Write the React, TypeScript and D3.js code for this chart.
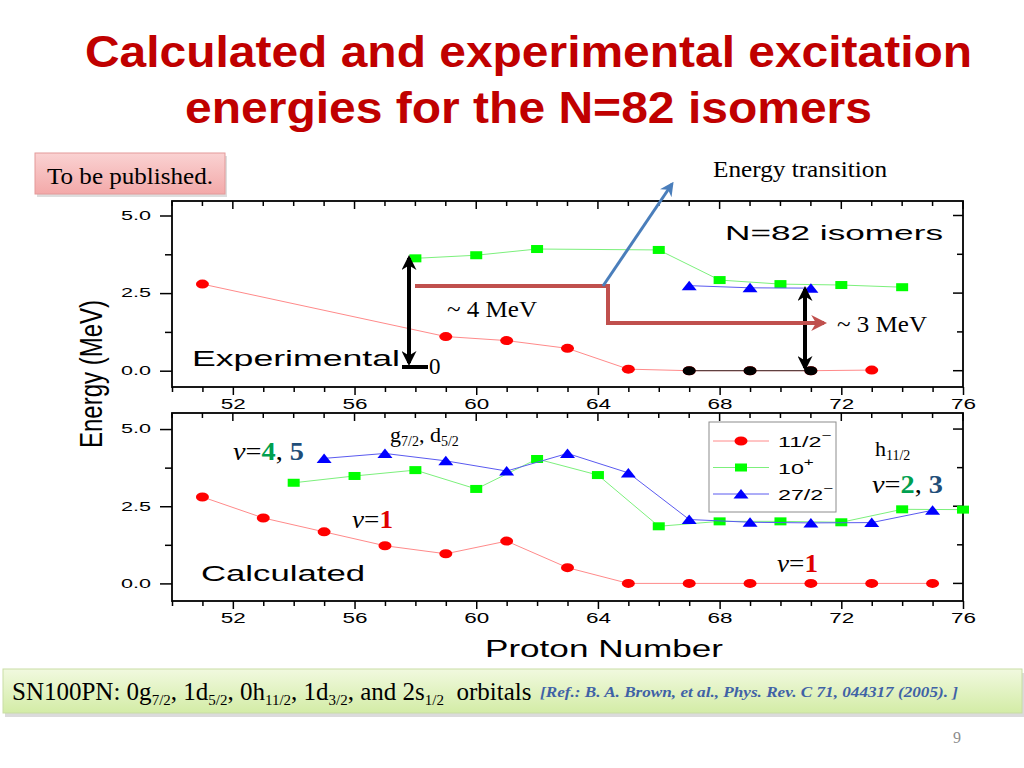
import React, { useEffect, useRef } from 'react';
import * as d3 from 'd3';

// Experimental energies (top panel)
const expZ11 = [51, 59, 61, 63, 65, 67, 69, 71, 73];
const expE11 = [2.79, 1.1, 0.97, 0.72, 0.05, 0, 0, 0, 0.02];
const expZBlack = [67, 69, 71];
const expEBlack = [0, 0, 0];
const expZ10 = [58, 60, 62, 66, 68, 70, 72, 74];
const expE10 = [3.62, 3.72, 3.92, 3.89, 2.92, 2.79, 2.76, 2.69];
const expZ27 = [67, 69, 71];
const expE27 = [2.74, 2.67, 2.66];

// Calculated energies (bottom panel)
const calcZ11 = [51, 53, 55, 57, 59, 61, 63, 65, 67, 69, 71, 73, 75];
const calcE11 = [2.8, 2.12, 1.67, 1.22, 0.96, 1.37, 0.51, 0, 0, 0, 0, 0, 0];
const calcZ10 = [54, 56, 58, 60, 62, 64, 66, 68, 70, 72, 74, 76];
const calcE10 = [3.26, 3.48, 3.67, 3.06, 4.03, 3.51, 1.85, 2.01, 2.01, 1.98, 2.4, 2.39];
const calcZ27 = [55, 57, 59, 61, 63, 65, 67, 69, 71, 73, 75];
const calcE27 = [4.05, 4.21, 3.97, 3.64, 4.21, 3.58, 2.07, 1.98, 1.96, 1.97, 2.37];

const xTickLabels = [52, 56, 60, 64, 68, 72, 76];
const yTickLabels = [0, 2.5, 5];
const legendLabels = [
  { main: '11/2', sup: '\u2212' },
  { main: '10', sup: '+' },
  { main: '27/2', sup: '\u2212' },
];

const SANS = "'Liberation Sans', Arial, sans-serif";
const SERIF = "'Liberation Serif', 'Times New Roman', serif";

export default function App() {
  const svgRef = useRef<SVGSVGElement>(null);

  useEffect(() => {
    if (!svgRef.current) return;
    draw();
  }, []);

  const draw = () => {
    const svg = d3.select(svgRef.current);
    svg.selectAll('*').remove();

    const left = 172;
    const right = 963;

    const x = d3.scaleLinear().domain([50, 76]).range([left, right]);
    const yTop = d3.scaleLinear().domain([-0.525, 5.467]).range([387, 201]);
    const yBot = d3.scaleLinear().domain([-0.57, 5.52]).range([601, 413]);

    const defs = svg.append('defs');
    const addArrow = (id: string, color: string, size: number) => {
      defs
        .append('marker')
        .attr('id', id)
        .attr('viewBox', '0 0 10 10')
        .attr('refX', 8)
        .attr('refY', 5)
        .attr('markerUnits', 'userSpaceOnUse')
        .attr('markerWidth', size)
        .attr('markerHeight', size)
        .attr('orient', 'auto-start-reverse')
        .append('path')
        .attr('d', 'M0,0 L10,5 L0,10 L3,5 z')
        .attr('fill', color);
    };
    addArrow('arrBlack', '#000', 15);
    addArrow('arrRed', '#C0504D', 16);
    addArrow('arrBlue', '#4A7EBB', 14);

    const boxGrad = defs.append('linearGradient').attr('id', 'boxGrad').attr('x1', 0).attr('y1', 0).attr('x2', 0).attr('y2', 1);
    boxGrad.append('stop').attr('offset', '0%').attr('stop-color', '#F1F9DF');
    boxGrad.append('stop').attr('offset', '100%').attr('stop-color', '#D3ECA6');
    const pinkGrad = defs.append('linearGradient').attr('id', 'pinkGrad').attr('x1', 0).attr('y1', 0).attr('x2', 0).attr('y2', 1);
    pinkGrad.append('stop').attr('offset', '0%').attr('stop-color', '#FAD2D2');
    pinkGrad.append('stop').attr('offset', '100%').attr('stop-color', '#F3A9A9');

    svg.append('rect').attr('width', 1024).attr('height', 768).attr('fill', '#fff');

    // Title
    const title = svg.append('g').attr('font-family', SANS).attr('font-weight', 'bold').attr('font-size', 45).attr('fill', '#C00000');
    title.append('text').attr('x', 85).attr('y', 67).attr('textLength', 887).attr('lengthAdjust', 'spacingAndGlyphs').text('Calculated and experimental excitation');
    title.append('text').attr('x', 185).attr('y', 123).attr('textLength', 687).attr('lengthAdjust', 'spacingAndGlyphs').text('energies for the N=82 isomers');

    // "To be published." box
    svg.append('rect').attr('x', 37).attr('y', 156).attr('width', 190).attr('height', 41).attr('fill', '#bbb').attr('opacity', 0.5);
    svg.append('rect').attr('x', 35).attr('y', 153).attr('width', 190).attr('height', 41).attr('fill', 'url(#pinkGrad)').attr('stroke', '#E39A9A').attr('stroke-width', 1);
    svg.append('text').attr('x', 47).attr('y', 184).attr('font-family', SERIF).attr('font-size', 23).attr('textLength', 166).attr('lengthAdjust', 'spacingAndGlyphs').text('To be published.');

    const drawPanel = (y: d3.ScaleLinear<number, number>, top: number, bottom: number) => {
      const g = svg.append('g');
      const minorX = d3.range(50, 77);
      const minorY = d3.range(0, 5.01, 1.25);

      // bottom axis (outward)
      const xa = g.append('g').attr('transform', `translate(0,${bottom})`).call(
        d3
          .axisBottom(x)
          .tickValues(minorX)
          .tickSize(7)
          .tickPadding(5)
          .tickFormat((d) => (xTickLabels.includes(+d) ? String(d) : ''))
      );
      xa.selectAll('line').attr('y2', (d: any) => (xTickLabels.includes(+d) ? 8 : 5)).attr('stroke-width', 1.5);
      xa.select('.domain').remove();
      xa.selectAll('text')
        .attr('font-family', SANS)
        .attr('font-size', 14)
        .attr('fill', '#000')
        .filter((d: any) => xTickLabels.includes(+d))
        .attr('textLength', 25)
        .attr('lengthAdjust', 'spacingAndGlyphs');

      // top edge ticks (inward)
      g.selectAll('.tt')
        .data(minorX)
        .enter()
        .append('line')
        .attr('x1', (d) => x(d))
        .attr('x2', (d) => x(d))
        .attr('y1', top)
        .attr('y2', (d) => top + (xTickLabels.includes(d) ? 8 : 5))
        .attr('stroke', '#000')
        .attr('stroke-width', 1.5);

      // left axis (outward)
      const ya = g.append('g').attr('transform', `translate(${left},0)`).call(
        d3
          .axisLeft(y)
          .tickValues(minorY)
          .tickSize(12)
          .tickPadding(9)
          .tickFormat((d) => (yTickLabels.includes(+d) ? (+d).toFixed(1) : ''))
      );
      ya.selectAll('line').attr('x2', (d: any) => (yTickLabels.includes(+d) ? -12 : -7)).attr('stroke-width', 1.5);
      ya.select('.domain').remove();
      ya.selectAll('text')
        .attr('font-family', SANS)
        .attr('font-size', 12)
        .attr('fill', '#000')
        .filter((d: any) => yTickLabels.includes(+d))
        .attr('textLength', 30)
        .attr('lengthAdjust', 'spacingAndGlyphs');

      // right edge ticks (inward)
      g.selectAll('.rt')
        .data(minorY)
        .enter()
        .append('line')
        .attr('x1', right)
        .attr('x2', (d) => right - (yTickLabels.includes(d) ? 10 : 6))
        .attr('y1', (d) => y(d))
        .attr('y2', (d) => y(d))
        .attr('stroke', '#000')
        .attr('stroke-width', 1.5);

      g.append('rect')
        .attr('x', left)
        .attr('y', top)
        .attr('width', right - left)
        .attr('height', bottom - top)
        .attr('fill', 'none')
        .attr('stroke', '#000')
        .attr('stroke-width', 1.8);
      return g;
    };

    const drawMarker = (g: any, shape: string, px: number, py: number, fill: string) => {
      if (shape === 'circle') {
        g.append('ellipse').attr('cx', px).attr('cy', py).attr('rx', 6.5).attr('ry', 4.5).attr('fill', fill);
      } else if (shape === 'square') {
        g.append('rect').attr('x', px - 6).attr('y', py - 4).attr('width', 12).attr('height', 8).attr('fill', fill);
      } else {
        g.append('path')
          .attr('d', `M${px - 7.5},${py + 4.5} L${px},${py - 5} L${px + 7.5},${py + 4.5} Z`)
          .attr('fill', fill);
      }
    };

    const series = (
      g: any,
      y: d3.ScaleLinear<number, number>,
      zs: number[],
      es: number[],
      shape: string,
      fill: string,
      lineColor: string
    ) => {
      const pts = zs.map((z, i) => [x(z), y(es[i])] as [number, number]);
      g.append('path').attr('d', d3.line()(pts)).attr('fill', 'none').attr('stroke', lineColor).attr('stroke-width', 1);
      pts.forEach(([px, py]) => drawMarker(g, shape, px, py, fill));
    };

    // Top panel: experimental
    const gt = drawPanel(yTop, 201, 387);
    series(gt, yTop, expZ11, expE11, 'circle', '#FF0000', '#FF8A8A');
    series(gt, yTop, expZ10, expE10, 'square', '#00FF00', '#7CF07C');
    series(gt, yTop, expZ27, expE27, 'triangle', '#0000FF', '#5A5AF0');
    series(gt, yTop, expZBlack, expEBlack, 'circle', '#000000', '#3A2A2A');

    // Bottom panel: calculated
    const gb = drawPanel(yBot, 413, 601);
    series(gb, yBot, calcZ11, calcE11, 'circle', '#FF0000', '#FF8A8A');
    series(gb, yBot, calcZ10, calcE10, 'square', '#00FF00', '#7CF07C');
    series(gb, yBot, calcZ27, calcE27, 'triangle', '#0000FF', '#5A5AF0');

    // Panel labels
    const wide = (xx: number, yy: number, txt: string, size: number, len: number) =>
      svg
        .append('text')
        .attr('x', xx)
        .attr('y', yy)
        .attr('font-family', SANS)
        .attr('font-size', size)
        .attr('textLength', len)
        .attr('lengthAdjust', 'spacingAndGlyphs')
        .text(txt);
    wide(725, 240, 'N=82 isomers', 21, 218);
    wide(192, 366, 'Experimental', 22, 208);
    wide(201, 581, 'Calculated', 22, 164);
    wide(485, 657, 'Proton Number', 23, 238);

    svg
      .append('text')
      .attr('transform', 'translate(102,374) rotate(-90)')
      .attr('text-anchor', 'middle')
      .attr('font-family', SANS)
      .attr('font-size', 32)
      .attr('textLength', 148)
      .attr('lengthAdjust', 'spacingAndGlyphs')
      .text('Energy (MeV)');

    // Legend
    const lg = svg.append('g');
    lg.append('rect').attr('x', 709).attr('y', 422).attr('width', 127).attr('height', 90).attr('fill', '#fff').attr('stroke', '#8C8C8C').attr('stroke-width', 1);
    const legendItems = [
      { shape: 'circle', fill: '#FF0000', line: '#FF8A8A' },
      { shape: 'square', fill: '#00FF00', line: '#7CF07C' },
      { shape: 'triangle', fill: '#0000FF', line: '#5A5AF0' },
    ];
    legendItems.forEach((it, i) => {
      const ly = 441 + i * 26.5;
      lg.append('line').attr('x1', 713).attr('x2', 769).attr('y1', ly).attr('y2', ly).attr('stroke', it.line).attr('stroke-width', 1);
      drawMarker(lg, it.shape, 741, ly, it.fill);
      const t = lg
        .append('g')
        .attr('transform', `translate(778,${ly + 6}) scale(1.55,1)`)
        .append('text')
        .attr('font-family', SANS)
        .attr('font-size', 15);
      t.append('tspan').text(legendLabels[i].main);
      t.append('tspan').attr('dy', -8).attr('font-size', 11).text(legendLabels[i].sup);
    });

    // Annotations (serif)
    const serif = (xx: number, yy: number, size: number) =>
      svg.append('text').attr('x', xx).attr('y', yy).attr('font-family', SERIF).attr('font-size', size).attr('fill', '#000');

    serif(713, 177, 23).attr('textLength', 174).attr('lengthAdjust', 'spacingAndGlyphs').text('Energy transition');
    serif(447, 317, 23).attr('textLength', 90).attr('lengthAdjust', 'spacingAndGlyphs').text('~ 4 MeV');
    serif(837, 332, 23).attr('textLength', 90).attr('lengthAdjust', 'spacingAndGlyphs').text('~ 3 MeV');
    serif(429, 374, 23).text('0');

    // black double arrows
    svg.append('line').attr('x1', 409).attr('x2', 409).attr('y1', 258).attr('y2', 363)
      .attr('stroke', '#000').attr('stroke-width', 4)
      .attr('marker-start', 'url(#arrBlack)').attr('marker-end', 'url(#arrBlack)');
    svg.append('line').attr('x1', 402).attr('x2', 428).attr('y1', 367).attr('y2', 367).attr('stroke', '#000').attr('stroke-width', 4);
    svg.append('line').attr('x1', 805).attr('x2', 805).attr('y1', 289).attr('y2', 368)
      .attr('stroke', '#000').attr('stroke-width', 4)
      .attr('marker-start', 'url(#arrBlack)').attr('marker-end', 'url(#arrBlack)');

    // red elbow arrow
    svg.append('path').attr('d', 'M415,286 H608 V323 H824').attr('fill', 'none')
      .attr('stroke', '#C0504D').attr('stroke-width', 4).attr('marker-end', 'url(#arrRed)');
    // blue arrow
    svg.append('line').attr('x1', 603).attr('y1', 286).attr('x2', 672).attr('y2', 184)
      .attr('stroke', '#4A7EBB').attr('stroke-width', 3).attr('marker-end', 'url(#arrBlue)');

    // g7/2, d5/2
    const gd = serif(390, 442, 22);
    gd.append('tspan').text('g');
    gd.append('tspan').attr('font-size', 14).attr('dy', 4).text('7/2');
    gd.append('tspan').attr('dy', -4).text(', d');
    gd.append('tspan').attr('font-size', 14).attr('dy', 4).text('5/2');

    const hh = serif(875, 456, 22);
    hh.append('tspan').text('h');
    hh.append('tspan').attr('font-size', 14).attr('dy', 4).text('11/2');

    const nu = (xx: number, yy: number, len: number, parts: { t: string; c?: string }[]) => {
      const t = serif(xx, yy, 25).attr('textLength', len).attr('lengthAdjust', 'spacingAndGlyphs');
      t.append('tspan').attr('font-style', 'italic').text('\u03BD');
      t.append('tspan').text('=');
      parts.forEach((p) => {
        const s = t.append('tspan').text(p.t);
        if (p.c) s.attr('fill', p.c).attr('font-weight', 'bold');
      });
    };
    nu(233, 460, 71, [{ t: '4', c: '#00A050' }, { t: ', ' }, { t: '5', c: '#1F4E79' }]);
    nu(352, 528, 41, [{ t: '1', c: '#E00000' }]);
    nu(872, 493, 71, [{ t: '2', c: '#00A050' }, { t: ', ' }, { t: '3', c: '#1F4E79' }]);
    nu(777, 572, 41, [{ t: '1', c: '#E00000' }]);

    // Bottom info box
    svg.append('rect').attr('x', 5).attr('y', 673).attr('width', 1019).attr('height', 44).attr('fill', '#999').attr('opacity', 0.35);
    svg.append('rect').attr('x', 3).attr('y', 669).attr('width', 1019).attr('height', 44).attr('fill', 'url(#boxGrad)').attr('stroke', '#C9DDA5').attr('stroke-width', 1);
    const info = serif(12, 700, 25);
    const sub = (s: string) => info.append('tspan').attr('font-size', 15).attr('dy', 5).text(s);
    const norm = (s: string) => info.append('tspan').attr('font-size', 25).attr('dy', -5).text(s);
    info.append('tspan').text('SN100PN: 0g');
    sub('7/2');
    norm(', 1d');
    sub('5/2');
    norm(', 0h');
    sub('11/2');
    norm(', 1d');
    sub('3/2');
    norm(', and 2s');
    sub('1/2');
    norm('\u00A0 orbitals');
    svg
      .append('text')
      .attr('x', 540)
      .attr('y', 697)
      .attr('font-family', SERIF)
      .attr('font-size', 15)
      .attr('font-style', 'italic')
      .attr('font-weight', 'bold')
      .attr('fill', '#3F62A6')
      .attr('textLength', 418)
      .attr('lengthAdjust', 'spacingAndGlyphs')
      .text('[Ref.: B. A. Brown, et al., Phys. Rev. C 71, 044317 (2005). ]');

    serif(953, 743, 16).attr('fill', '#8C8C8C').text('9');
  };

  return (
    <div style={{ position: 'absolute', left: 0, top: 0 }}>
      <svg ref={svgRef} width={1024} height={768}></svg>
    </div>
  );
}
